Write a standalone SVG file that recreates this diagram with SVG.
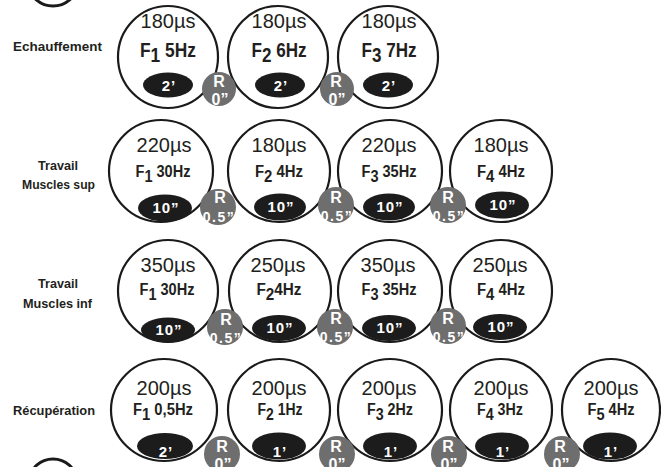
<svg xmlns="http://www.w3.org/2000/svg" width="661" height="467" viewBox="0 0 661 467">
<style>
.ring{fill:#fff;stroke:#1a1a1a;stroke-width:2.2}
.pill{fill:#1c1c1c}
.rest{fill:#6e6e6e}
.us{font-family:"Liberation Sans",Arial,sans-serif;font-size:20px;fill:#231f20;text-anchor:middle}
.fa{font-family:"Liberation Sans",Arial,sans-serif;font-weight:bold;font-size:20px;fill:#231f20;text-anchor:middle}
.fb{font-family:"Liberation Sans",Arial,sans-serif;font-weight:bold;font-size:16px;fill:#231f20;text-anchor:middle}
.pt{font-family:"Liberation Sans",Arial,sans-serif;font-weight:bold;font-size:15px;fill:#fff;text-anchor:middle;letter-spacing:1px}
.rt{font-family:"Liberation Sans",Arial,sans-serif;font-weight:bold;font-size:16px;fill:#fff;text-anchor:middle}
.rs{font-family:"Liberation Sans",Arial,sans-serif;font-weight:bold;font-size:14px;fill:#fff;text-anchor:middle;letter-spacing:1.5px}
.lab{font-family:"Liberation Sans",Arial,sans-serif;font-weight:bold;font-size:12px;fill:#231f20}
.frag{fill:none;stroke:#1a1a1a;stroke-width:3}
</style>

<g id="fragments">
<ellipse class="frag" cx="53" cy="-14" rx="23" ry="20"/>
<ellipse class="frag" cx="53" cy="480" rx="23" ry="21"/>
</g>

<g id="labels">
<text class="lab" x="13" y="51" textLength="89" lengthAdjust="spacingAndGlyphs">Echauffement</text>
<text class="lab" x="38" y="170" textLength="40" lengthAdjust="spacingAndGlyphs">Travail</text>
<text class="lab" x="22" y="189" textLength="73" lengthAdjust="spacingAndGlyphs">Muscles sup</text>
<text class="lab" x="38" y="288" textLength="40" lengthAdjust="spacingAndGlyphs">Travail</text>
<text class="lab" x="23" y="308" textLength="69" lengthAdjust="spacingAndGlyphs">Muscles inf</text>
<text class="lab" x="13" y="415" textLength="82" lengthAdjust="spacingAndGlyphs">Récupération</text>
</g>

<!-- Row 1 -->
<g id="r1n1">
<ellipse class="ring" cx="168" cy="57" rx="50" ry="51"/>
<text class="us" x="168" y="28">180µs</text>
<text class="fa" x="168" y="57" textLength="56" lengthAdjust="spacingAndGlyphs">F<tspan dy="5">1</tspan><tspan dy="-5"> 5Hz</tspan></text>
<ellipse class="pill" cx="168" cy="85" rx="25" ry="12.5"/>
<text class="pt" x="169" y="91">2’</text>
</g>
<g id="r1n2">
<ellipse class="ring" cx="278" cy="57" rx="50" ry="51"/>
<text class="us" x="279" y="28">180µs</text>
<text class="fa" x="279" y="57" textLength="55" lengthAdjust="spacingAndGlyphs">F<tspan dy="5">2</tspan><tspan dy="-5"> 6Hz</tspan></text>
<ellipse class="pill" cx="280" cy="85" rx="25" ry="12.5"/>
<text class="pt" x="281" y="91">2’</text>
</g>
<g id="r1n3">
<ellipse class="ring" cx="388" cy="57" rx="50" ry="51"/>
<text class="us" x="389" y="28">180µs</text>
<text class="fa" x="389" y="57" textLength="55" lengthAdjust="spacingAndGlyphs">F<tspan dy="5">3</tspan><tspan dy="-5"> 7Hz</tspan></text>
<ellipse class="pill" cx="388" cy="85" rx="25" ry="12.5"/>
<text class="pt" x="389" y="91">2’</text>
</g>

<!-- Row 2 -->
<g id="r2n1">
<ellipse class="ring" cx="161" cy="171" rx="52" ry="51"/>
<text class="us" x="164" y="152">220µs</text>
<text class="fb" x="163" y="177" textLength="55" lengthAdjust="spacingAndGlyphs">F<tspan dy="5">1</tspan><tspan dy="-5"> 30Hz</tspan></text>
<ellipse class="pill" cx="165" cy="208" rx="27" ry="13.5"/>
<text class="pt" x="166" y="213">10”</text>
</g>
<g id="r2n2">
<ellipse class="ring" cx="279" cy="171" rx="51" ry="51"/>
<text class="us" x="279" y="152">180µs</text>
<text class="fb" x="279" y="177" textLength="48" lengthAdjust="spacingAndGlyphs">F<tspan dy="5">2</tspan><tspan dy="-5"> 4Hz</tspan></text>
<ellipse class="pill" cx="280" cy="207" rx="26" ry="13.5"/>
<text class="pt" x="281" y="212">10”</text>
</g>
<g id="r2n3">
<ellipse class="ring" cx="390" cy="171" rx="52" ry="51"/>
<text class="us" x="389" y="152">220µs</text>
<text class="fb" x="389" y="177" textLength="55" lengthAdjust="spacingAndGlyphs">F<tspan dy="5">3</tspan><tspan dy="-5"> 35Hz</tspan></text>
<ellipse class="pill" cx="389" cy="207" rx="26" ry="13.5"/>
<text class="pt" x="390" y="212">10”</text>
</g>
<g id="r2n4">
<ellipse class="ring" cx="501" cy="171" rx="51" ry="51"/>
<text class="us" x="501" y="152">180µs</text>
<text class="fb" x="501" y="177" textLength="48" lengthAdjust="spacingAndGlyphs">F<tspan dy="5">4</tspan><tspan dy="-5"> 4Hz</tspan></text>
<ellipse class="pill" cx="502" cy="205" rx="27" ry="13.5"/>
<text class="pt" x="503" y="210">10”</text>
</g>

<!-- Row 3 -->
<g id="r3n1">
<ellipse class="ring" cx="168" cy="291" rx="50" ry="51"/>
<text class="us" x="168" y="272">350µs</text>
<text class="fb" x="167" y="295" textLength="55" lengthAdjust="spacingAndGlyphs">F<tspan dy="5">1</tspan><tspan dy="-5"> 30Hz</tspan></text>
<ellipse class="pill" cx="168" cy="330" rx="27" ry="12.5"/>
<text class="pt" x="169" y="335">10”</text>
</g>
<g id="r3n2">
<ellipse class="ring" cx="280" cy="291" rx="51" ry="51"/>
<text class="us" x="278" y="272">250µs</text>
<text class="fb" x="279" y="295" textLength="45" lengthAdjust="spacingAndGlyphs">F<tspan dy="5">2</tspan><tspan dy="-5">4Hz</tspan></text>
<ellipse class="pill" cx="279" cy="328" rx="27" ry="13"/>
<text class="pt" x="280" y="333">10”</text>
</g>
<g id="r3n3">
<ellipse class="ring" cx="390" cy="291" rx="52" ry="51"/>
<text class="us" x="388" y="272">350µs</text>
<text class="fb" x="389" y="295" textLength="55" lengthAdjust="spacingAndGlyphs">F<tspan dy="5">3</tspan><tspan dy="-5"> 35Hz</tspan></text>
<ellipse class="pill" cx="389" cy="328" rx="27" ry="13"/>
<text class="pt" x="390" y="333">10”</text>
</g>
<g id="r3n4">
<ellipse class="ring" cx="501" cy="291" rx="51" ry="51"/>
<text class="us" x="500" y="272">250µs</text>
<text class="fb" x="501" y="295" textLength="48" lengthAdjust="spacingAndGlyphs">F<tspan dy="5">4</tspan><tspan dy="-5"> 4Hz</tspan></text>
<ellipse class="pill" cx="500" cy="327" rx="27" ry="13"/>
<text class="pt" x="501" y="332">10”</text>
</g>

<!-- Row 4 -->
<g id="r4n1">
<ellipse class="ring" cx="164" cy="410" rx="53" ry="51"/>
<text class="us" x="164" y="395">200µs</text>
<text class="fb" x="163" y="415" textLength="60" lengthAdjust="spacingAndGlyphs">F<tspan dy="5">1</tspan><tspan dy="-5"> 0,5Hz</tspan></text>
<ellipse class="pill" cx="165" cy="446" rx="28" ry="13"/>
<text class="pt" x="166" y="457">2’</text>
</g>
<g id="r4n2">
<ellipse class="ring" cx="279" cy="410" rx="51" ry="51"/>
<text class="us" x="279" y="395">200µs</text>
<text class="fb" x="280" y="415" textLength="45" lengthAdjust="spacingAndGlyphs">F<tspan dy="5">2</tspan><tspan dy="-5"> 1Hz</tspan></text>
<ellipse class="pill" cx="279" cy="446" rx="27" ry="13.5"/>
<text class="pt" x="280" y="457">1’</text>
</g>
<g id="r4n3">
<ellipse class="ring" cx="390" cy="410" rx="52" ry="51"/>
<text class="us" x="389" y="395">200µs</text>
<text class="fb" x="390" y="415" textLength="46" lengthAdjust="spacingAndGlyphs">F<tspan dy="5">3</tspan><tspan dy="-5"> 2Hz</tspan></text>
<ellipse class="pill" cx="390" cy="446" rx="27" ry="13.5"/>
<text class="pt" x="391" y="457">1’</text>
</g>
<g id="r4n4">
<ellipse class="ring" cx="501" cy="410" rx="51" ry="51"/>
<text class="us" x="501" y="395">200µs</text>
<text class="fb" x="500" y="415" textLength="46" lengthAdjust="spacingAndGlyphs">F<tspan dy="5">4</tspan><tspan dy="-5"> 3Hz</tspan></text>
<ellipse class="pill" cx="502" cy="446" rx="27" ry="13.5"/>
<text class="pt" x="503" y="457">1’</text>
</g>
<g id="r4n5">
<ellipse class="ring" cx="611" cy="410" rx="49" ry="51"/>
<text class="us" x="611" y="395">200µs</text>
<text class="fb" x="611" y="415" textLength="47" lengthAdjust="spacingAndGlyphs">F<tspan dy="5">5</tspan><tspan dy="-5"> 4Hz</tspan></text>
<ellipse class="pill" cx="610" cy="446" rx="27" ry="13.5"/>
<text class="pt" x="611" y="457">1’</text>
</g>

<!-- Rest circles -->
<g id="r1rest1"><circle class="rest" cx="219" cy="89" r="17"/><text class="rt" x="219" y="87">R</text><text class="rt" x="220" y="105">0”</text></g>
<g id="r1rest2"><circle class="rest" cx="337" cy="89" r="17"/><text class="rt" x="336" y="87">R</text><text class="rt" x="337" y="105">0”</text></g>

<g id="r2rest1"><circle class="rest" cx="218" cy="207" r="18"/><text class="rt" x="220" y="203">R</text><text class="rs" x="219" y="222">0.5”</text></g>
<g id="r2rest2"><circle class="rest" cx="336" cy="205" r="18"/><text class="rt" x="336" y="203">R</text><text class="rs" x="337" y="221">0.5”</text></g>
<g id="r2rest3"><circle class="rest" cx="448" cy="205" r="18"/><text class="rt" x="448" y="203">R</text><text class="rs" x="449" y="221">0.5”</text></g>

<g id="r3rest1"><circle class="rest" cx="225" cy="327" r="18"/><text class="rt" x="226" y="325">R</text><text class="rs" x="226" y="343">0.5”</text></g>
<g id="r3rest2"><circle class="rest" cx="335" cy="327" r="18"/><text class="rt" x="336" y="324">R</text><text class="rs" x="336" y="342">0.5”</text></g>
<g id="r3rest3"><circle class="rest" cx="448" cy="326" r="18"/><text class="rt" x="448" y="324">R</text><text class="rs" x="449" y="342">0.5”</text></g>

<g id="r4rest1"><circle class="rest" cx="222" cy="454" r="18"/><text class="rt" x="222" y="452">R</text><text class="rt" x="223" y="470">0”</text></g>
<g id="r4rest2"><circle class="rest" cx="337" cy="454" r="18"/><text class="rt" x="336" y="452">R</text><text class="rt" x="337" y="470">0”</text></g>
<g id="r4rest3"><circle class="rest" cx="449" cy="454" r="18"/><text class="rt" x="448" y="452">R</text><text class="rt" x="449" y="470">0”</text></g>
<g id="r4rest4"><circle class="rest" cx="562" cy="454" r="18"/><text class="rt" x="560" y="452">R</text><text class="rt" x="561" y="470">0”</text></g>
</svg>
